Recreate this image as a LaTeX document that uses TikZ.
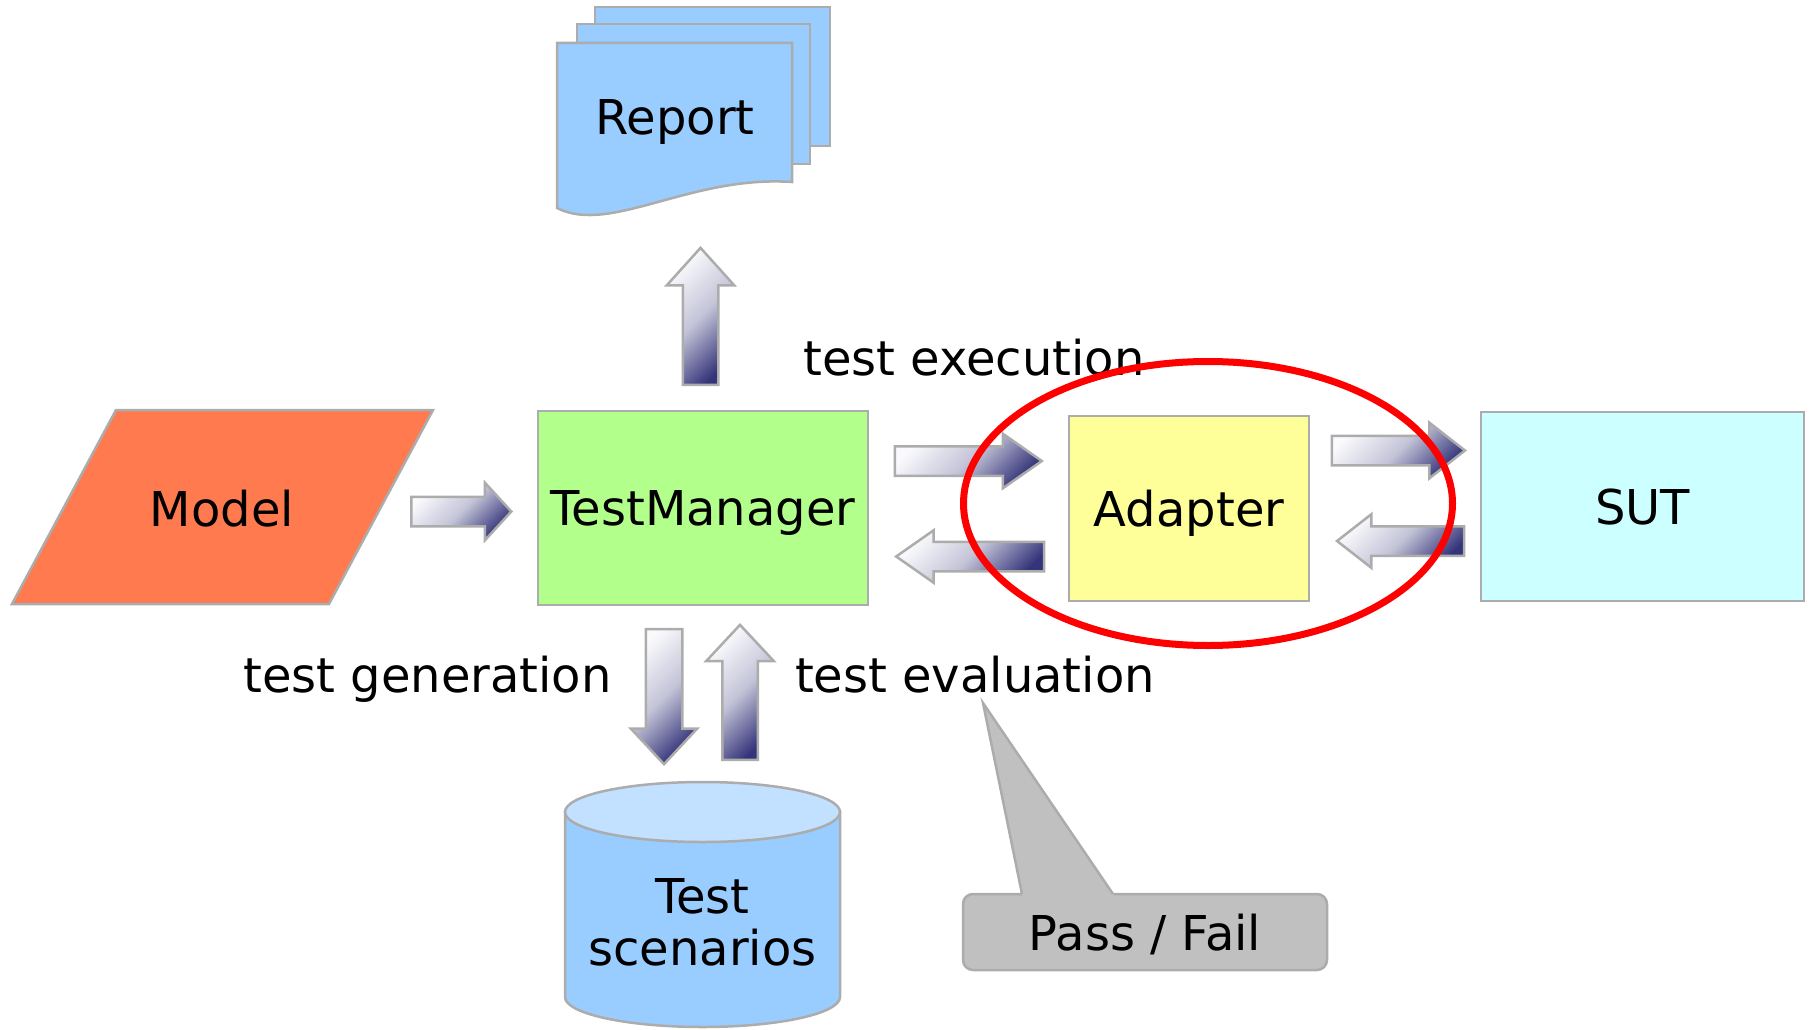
\documentclass[tikz,border=0pt]{standalone}
\usepackage{fontspec}
\setmainfont{DejaVu Sans}
\usetikzlibrary{shapes.arrows}

\definecolor{modelred}{RGB}{255,122,78}
\definecolor{mgrgreen}{RGB}{178,255,140}
\definecolor{adpyellow}{RGB}{255,255,153}
\definecolor{sutcyan}{RGB}{204,255,255}
\definecolor{docblue}{RGB}{153,204,255}
\definecolor{dbtop}{RGB}{194,224,255}
\definecolor{notegray}{RGB}{192,192,192}
\definecolor{edgegray}{RGB}{172,172,172}
\definecolor{arrowlight}{RGB}{250,250,253}
\definecolor{arrowmid}{RGB}{196,196,216}
\definecolor{arrowdark}{RGB}{52,52,122}

\newcommand{\diagfont}{\fontsize{48}{52}\selectfont}

\begin{document}
\begin{tikzpicture}[x=1pt,y=-1pt,font=\diagfont,
    box node/.style={rectangle,draw=edgegray,line width=2.5,text depth=0pt,inner sep=0},
    text node/.style={inner sep=0,text depth=0pt},
    label node/.style={inner sep=0,anchor=base},
    shape line/.style={draw=edgegray,line width=2.5},
    arrow node/.style={single arrow,draw=edgegray,line width=2.5,anchor=tip,single arrow head indent=0,
        top color=arrowlight,bottom color=arrowdark,middle color=arrowmid,shading angle=45},
    flat arrow/.style={arrow node,inner xsep=0,inner ysep=13.5},
    tall arrow/.style={arrow node,inner ysep=0,inner xsep=16.5}]

\useasboundingbox (0,0) rectangle (1810,1030);

\filldraw[shape line,fill=docblue] (595,7) rectangle (830,146);
\filldraw[shape line,fill=docblue] (577,24) rectangle (810,164);
\filldraw[shape line,fill=docblue] (557,43) -- (792,43) -- (792,182) .. controls (690,175) and (610,235) .. (557,208) -- cycle;
\node[text node] (report) at (675,117) {Report};

\filldraw[shape line,fill=modelred] (116,410) -- (433,410) -- (329,604) -- (12,604) -- cycle;
\node[text node] (model) at (222,508) {Model};

\node[box node,fill=mgrgreen,minimum width=330,minimum height=194] (tm) at (703,508) {TestManager};
\node[box node,fill=adpyellow,minimum width=240,minimum height=185] (adapter) at (1189,508.5) {Adapter};
\node[box node,fill=sutcyan,minimum width=323,minimum height=189] (sut) at (1642.5,506.5) {SUT};

\filldraw[shape line,fill=docblue] (565,812) -- (565,997) arc[start angle=180,end angle=0,x radius=137.5,y radius=30] -- (840,812) -- cycle;
\filldraw[shape line,fill=dbtop] (702.5,812) ellipse[x radius=137.5,y radius=30];
\node[inner sep=0,align=center] (scen) at (702.5,922) {Test\\scenarios};

\node[box node,fill=notegray,rounded corners=10,minimum width=364,minimum height=76] (pf) at (1145,932) {Pass / Fail};
\fill[notegray] (1022.4,896) -- (983,703) -- (1114.4,896) -- cycle;
\draw[edgegray,line width=2.5] (1022,894) -- (983,703) -- (1113,894);

\node[flat arrow,minimum height=100,minimum width=55,single arrow head extend=14,single arrow tip angle=95] (a1) at (513,511.5) {};
\node[flat arrow,minimum height=147,minimum width=52,single arrow head extend=12.5,single arrow tip angle=70] (a2) at (1044,461) {};
\node[flat arrow,minimum height=148,minimum width=50,single arrow head extend=11.5,single arrow tip angle=70,shape border rotate=180] (a3) at (894,556.5) {};
\node[flat arrow,minimum height=133,minimum width=53,single arrow head extend=13,single arrow tip angle=76] (a4) at (1467,450.5) {};
\node[flat arrow,minimum height=127,minimum width=50,single arrow head extend=12,single arrow tip angle=76,shape border rotate=180] (a5) at (1335,541) {};
\node[tall arrow,minimum height=137,minimum width=65,single arrow head extend=16,single arrow tip angle=84,shape border rotate=90] (a6) at (700.5,246) {};
\node[tall arrow,inner xsep=17,minimum height=135,minimum width=64,single arrow head extend=15,single arrow tip angle=86,shape border rotate=270] (a7) at (664,766) {};
\node[tall arrow,minimum height=135,minimum width=65,single arrow head extend=16,single arrow tip angle=86,shape border rotate=90] (a8) at (740,623) {};

\node[label node] (exec) at (974,375) {test execution};
\node[label node] (gen) at (427.5,692) {test generation};
\node[label node] (eval) at (975,692) {test evaluation};

\draw[red,line width=7] (1208,503.5) ellipse[x radius=244.5,y radius=142];

\end{tikzpicture}
\end{document}
